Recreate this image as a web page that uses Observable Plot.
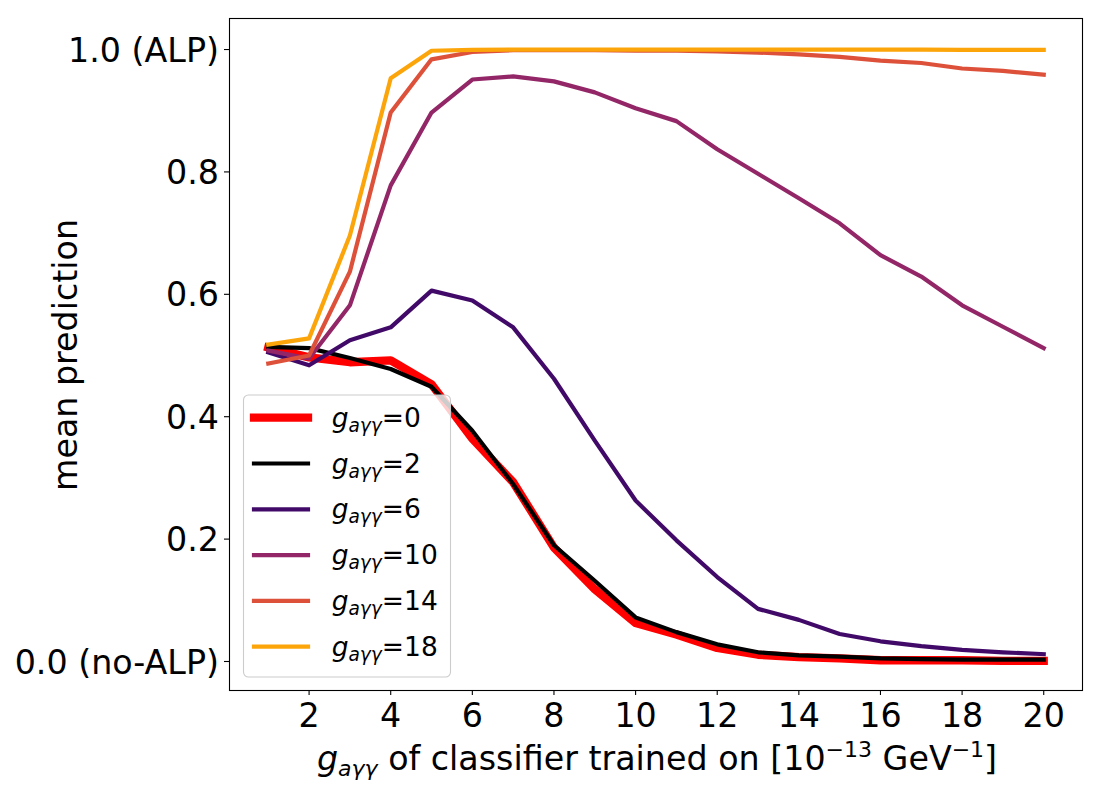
<!DOCTYPE html>
<html><head><meta charset="utf-8">
<script src="https://cdn.jsdelivr.net/npm/d3@7"></script>
<script src="https://cdn.jsdelivr.net/npm/@observablehq/plot@0.6"></script>
<style>body{margin:0;background:#fff} #chart svg{display:block}</style>
</head><body><div id="chart"></div>
<script>
// ---- data ----
const xValues = [1,2,3,4,5,6,7,8,9,10,11,12,13,14,15,16,17,18,19,20];
const g0  = [0.513,0.497,0.489,0.492,0.453,0.364,0.293,0.186,0.118,0.063,0.044,0.022,0.011,0.007,0.005,0.002,0.002,0.002,0.001,0.001];
const g2  = [0.514,0.512,0.496,0.478,0.449,0.377,0.290,0.190,0.132,0.072,0.048,0.028,0.015,0.010,0.008,0.005,0.004,0.003,0.003,0.003];
const g6  = [0.505,0.484,0.525,0.546,0.606,0.590,0.546,0.462,0.361,0.263,0.198,0.138,0.086,0.068,0.045,0.033,0.025,0.019,0.015,0.012];
const g10 = [0.508,0.495,0.582,0.778,0.897,0.951,0.956,0.948,0.930,0.904,0.883,0.837,0.797,0.757,0.716,0.664,0.629,0.582,0.547,0.512];
const g14 = [0.487,0.500,0.637,0.897,0.984,0.996,0.999,0.999,0.999,0.998,0.998,0.997,0.995,0.992,0.988,0.982,0.978,0.969,0.965,0.959];
const g18 = [0.518,0.528,0.696,0.953,0.998,0.9995,0.9998,1.0,1.0,1.0,1.0,1.0,1.0,1.0,1.0,1.0,1.0,0.9995,0.9995,0.9995];
const seriesNames = ["0","2","6","10","14","18"];
const seriesValues = [g0,g2,g6,g10,g14,g18];
const seriesColors = ["#ff0000","#000000","#420a68","#932667","#dd513a","#fca50a"];
const seriesWidths = [8.3,4.2,4.2,4.2,4.2,4.2];
const xTicks = [2,4,6,8,10,12,14,16,18,20];
const yTicks = [0,0.2,0.4,0.6,0.8,1.0];
const yTickLabels = ["0.0 (no-ALP)","0.2","0.4","0.6","0.8","1.0 (ALP)"];

const rows = [];
seriesNames.forEach((s, k) => xValues.forEach((x, i) => rows.push({series: s, x, y: seriesValues[k][i]})));

const FONT = "DejaVu Sans";
const FS = 33.3;
const chart = Plot.plot({
  width: 1100, height: 800,
  marginLeft: 229, marginRight: 18, marginTop: 18, marginBottom: 110,
  x: {domain: [0.05, 20.95]},
  y: {domain: [-0.0474, 1.0507]},
  style: {fontFamily: FONT, fontSize: FS + "px", color: "black", background: "white"},
  marks: [
    ...seriesNames.map((s, k) => Plot.line(rows.filter(r => r.series === s), {
      x: "x", y: "y", stroke: seriesColors[k], strokeWidth: seriesWidths[k],
      strokeLinecap: "square", strokeLinejoin: "round"
    })),
    Plot.frame({stroke: "black", strokeWidth: 1.1}),
    Plot.axisX({ticks: xTicks, tickSize: 5, tickPadding: 8, label: null, fontSize: FS, strokeWidth: 1.1}),
    Plot.axisY({ticks: yTicks, tickFormat: () => "", tickSize: 5, label: null, strokeWidth: 1.1}),
    Plot.axisY({ticks: yTicks, tickFormat: d => yTickLabels[yTicks.indexOf(d)], tickSize: 0, tickPadding: 10.5, dy: 1.5, label: null, fontSize: FS})
  ]
});
document.getElementById("chart").appendChild(chart);

const svg = d3.select(chart);
// y label
svg.append("text")
  .attr("transform", "translate(77,355) rotate(-90)")
  .attr("text-anchor", "middle")
  .attr("font-family", FONT).attr("font-size", FS).attr("fill", "black")
  .text("mean prediction");

// x label with math
const SUB = 22;
const xl = svg.append("text")
  .attr("x", 657).attr("y", 770)
  .attr("text-anchor", "middle")
  .attr("font-family", FONT).attr("font-size", FS).attr("fill", "black");
xl.append("tspan").attr("font-style", "italic").text("g");
xl.append("tspan").attr("font-style", "italic").attr("font-size", SUB).attr("dy", 6).text("aγγ");
xl.append("tspan").attr("dy", -6).text(" of classifier trained on [10");
xl.append("tspan").attr("font-size", SUB).attr("dy", -13).text("−13");
xl.append("tspan").attr("dy", 13).text(" GeV");
xl.append("tspan").attr("font-size", SUB).attr("dy", -13).text("−1");
xl.append("tspan").attr("dy", 13).text("]");

// legend
const LFS = 26.5;
const lg = svg.append("g").attr("text-anchor", "start");
lg.append("rect").attr("x", 243.5).attr("y", 395).attr("width", 207).attr("height", 282)
  .attr("rx", 5).attr("fill", "white").attr("fill-opacity", 0.8)
  .attr("stroke", "#cccccc").attr("stroke-width", 1.1);
seriesNames.forEach((s, k) => {
  const cy = 417.7 + k * 45.8;
  lg.append("line").attr("x1", 254).attr("x2", 308).attr("y1", cy).attr("y2", cy)
    .attr("stroke", seriesColors[k]).attr("stroke-width", seriesWidths[k]).attr("stroke-linecap", "square");
  const t = lg.append("text").attr("x", 331.7).attr("y", cy + 9)
    .attr("text-anchor", "start")
    .attr("font-family", FONT).attr("font-size", LFS).attr("fill", "black");
  t.append("tspan").attr("font-style", "italic").text("g");
  t.append("tspan").attr("font-style", "italic").attr("font-size", LFS * 0.7).attr("dy", 5).text("aγγ");
  t.append("tspan").attr("dy", -5).text("=" + s);
});
</script>
</body></html>
